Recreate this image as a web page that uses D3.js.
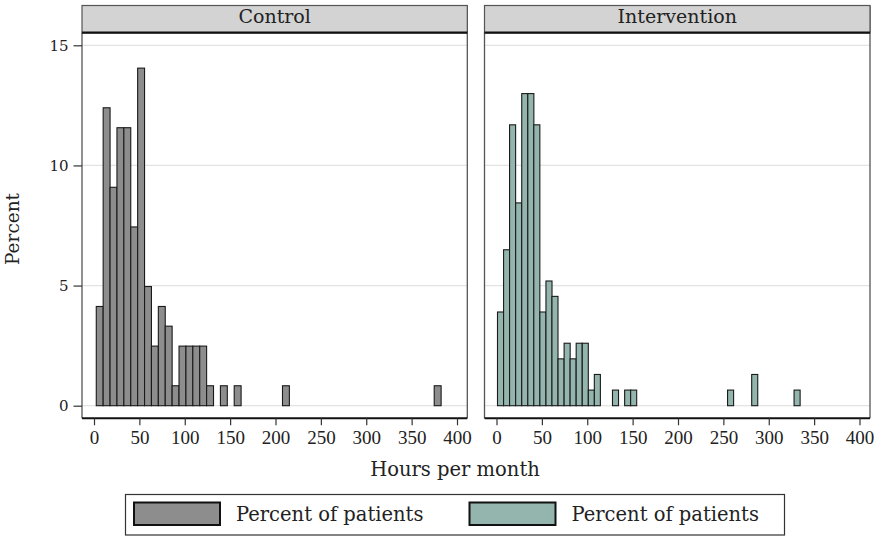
<!DOCTYPE html>
<html>
<head>
<meta charset="utf-8" />
<script src="https://d3js.org/d3.v7.min.js"></script>
<style>
  body { margin: 0; background: #fff; }
  svg text { fill: #222; }
</style>
</head>
<body>
<svg id="chart" width="874" height="536"></svg>
<script>
// histogram bins: lower edge (hours) and percent of patients
const controlHours = [2.5, 10.1, 17.7, 25.3, 32.9, 40.5, 48.1, 55.7, 63.3, 70.9, 78.5, 86.1, 93.7, 101.3, 108.9, 116.5, 124.1, 139.3, 154.5, 207.7, 374.9];
const controlPct = [4.13, 12.40, 9.09, 11.57, 11.57, 7.44, 14.05, 4.96, 2.48, 4.13, 3.31, 0.83, 2.48, 2.48, 2.48, 2.48, 0.83, 0.83, 0.83, 0.83, 0.83];
const controlBinWidth = 7.6;

const interventionHours = [1.1, 7.8, 14.4, 21.1, 27.8, 34.5, 41.1, 47.8, 54.5, 61.1, 67.8, 74.5, 81.1, 87.8, 94.5, 101.2, 107.8, 127.8, 141.2, 147.8, 254.6, 281.2, 327.9];
const interventionPct = [3.90, 6.49, 11.69, 8.44, 12.99, 12.99, 11.69, 3.90, 5.19, 4.55, 1.95, 2.60, 1.95, 2.60, 2.60, 0.65, 1.30, 0.65, 0.65, 0.65, 0.65, 1.30, 0.65];
const interventionBinWidth = 6.67;

const panelNames = ["Control", "Intervention"];
const xTicks = [0, 50, 100, 150, 200, 250, 300, 350, 400];
const yTicks = [0, 5, 10, 15];

const svg = d3.select("#chart");
const serif = "'DejaVu Serif', serif";

const stripTop = 5.5, stripBottom = 32.7, plotBottom = 418.3;
const y = d3.scaleLinear().domain([0, 15]).range([405.7, 45.3]);

const panels = [
  { name: panelNames[0], x0: 82, x1: 467.3, hours: controlHours, pct: controlPct, bw: controlBinWidth, fill: "#8d8d8d" },
  { name: panelNames[1], x0: 484.5, x1: 870, hours: interventionHours, pct: interventionPct, bw: interventionBinWidth, fill: "#93b5ad" }
];

panels.forEach((p, pi) => {
  const x = d3.scaleLinear().domain([0, 400]).range([p.x0 + 12, p.x0 + 375]);
  const g = svg.append("g");

  // gridlines
  g.selectAll("line.grid").data(yTicks).enter().append("line")
    .attr("x1", p.x0).attr("x2", p.x1)
    .attr("y1", d => y(d)).attr("y2", d => y(d))
    .attr("stroke", "#e3e3e3").attr("stroke-width", 1.2);

  // bars
  const bins = p.hours.map((h, i) => ({ h: h, v: p.pct[i] }));
  g.selectAll("rect.bar").data(bins).enter().append("rect")
    .attr("x", d => x(d.h))
    .attr("width", d => x(d.h + p.bw) - x(d.h))
    .attr("y", d => y(d.v))
    .attr("height", d => y(0) - y(d.v))
    .attr("fill", p.fill)
    .attr("stroke", "#1a1a1a").attr("stroke-width", 1.1);

  // panel frame
  g.append("line").attr("x1", p.x0).attr("x2", p.x0).attr("y1", stripBottom).attr("y2", plotBottom)
    .attr("stroke", "#555").attr("stroke-width", 1.3);
  g.append("line").attr("x1", p.x1).attr("x2", p.x1).attr("y1", stripTop).attr("y2", plotBottom)
    .attr("stroke", "#555").attr("stroke-width", 1.3);
  g.append("line").attr("x1", p.x0).attr("x2", p.x1).attr("y1", plotBottom).attr("y2", plotBottom)
    .attr("stroke", "#111").attr("stroke-width", 2);

  // strip
  g.append("rect").attr("x", p.x0).attr("y", stripTop).attr("width", p.x1 - p.x0).attr("height", stripBottom - stripTop)
    .attr("fill", "#d3d3d3").attr("stroke", "#555").attr("stroke-width", 1.2);
  g.append("line").attr("x1", p.x0).attr("x2", p.x1).attr("y1", stripBottom).attr("y2", stripBottom)
    .attr("stroke", "#111").attr("stroke-width", 2.2);
  g.append("text").attr("x", (p.x0 + p.x1) / 2).attr("y", 23)
    .attr("text-anchor", "middle").style("font-family", serif).style("font-size", "19px")
    .text(p.name);

  // x axis
  const xa = g.append("g").attr("transform", `translate(0,${plotBottom})`)
    .call(d3.axisBottom(x).tickValues(xTicks).tickSize(7).tickPadding(5).tickFormat(d3.format("d")));
  xa.select(".domain").remove();
  xa.selectAll(".tick line").attr("stroke", "#333").attr("stroke-width", 1.2);
  xa.selectAll(".tick text").attr("fill", "#222")
    .style("font-family", "'Liberation Serif', serif").style("font-size", "19px");

  // y axis on left panel only
  if (pi === 0) {
    const ya = g.append("g").attr("transform", `translate(${p.x0},0)`)
      .call(d3.axisLeft(y).tickValues(yTicks).tickSize(8.5).tickPadding(5));
    ya.select(".domain").remove();
    ya.selectAll(".tick line").attr("stroke", "#333").attr("stroke-width", 1.2);
    ya.selectAll(".tick text").attr("fill", "#222")
      .style("font-family", serif).style("font-size", "15px");
  }
});

// axis titles
svg.append("text").attr("transform", "translate(19,229) rotate(-90)")
  .attr("text-anchor", "middle").style("font-family", serif).style("font-size", "18.5px")
  .text("Percent");
svg.append("text").attr("x", 455).attr("y", 476)
  .attr("text-anchor", "middle").style("font-family", serif).style("font-size", "19.5px")
  .text("Hours per month");

// legend
const legend = svg.append("g");
legend.append("rect").attr("x", 125.5).attr("y", 494.5).attr("width", 659).attr("height", 40.5)
  .attr("fill", "#fff").attr("stroke", "#333").attr("stroke-width", 1.2);
const legendItems = [
  { x: 134, fill: panels[0].fill, label: "Percent of patients" },
  { x: 469.5, fill: panels[1].fill, label: "Percent of patients" }
];
legendItems.forEach(d => {
  legend.append("rect").attr("x", d.x).attr("y", 502.5).attr("width", 86).attr("height", 22.5)
    .attr("fill", d.fill).attr("stroke", "#111").attr("stroke-width", 2);
  legend.append("text").attr("x", d.x + 102).attr("y", 521)
    .style("font-family", serif).style("font-size", "19.5px")
    .text(d.label);
});
</script>
</body>
</html>
